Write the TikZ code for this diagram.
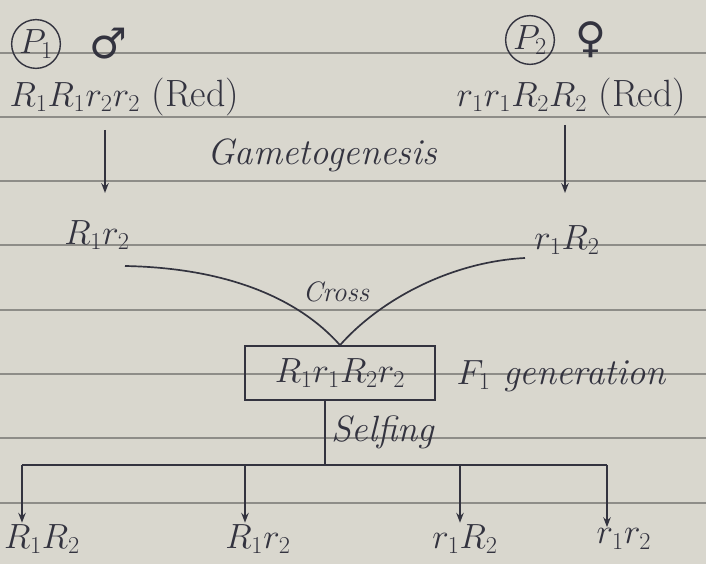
\documentclass[tikz,border=0pt]{standalone}
\usepackage{fontspec}
\usepackage{tikz}
\usetikzlibrary{arrows.meta,positioning,calc}
\newfontfamily\symfont{DejaVu Sans}
\definecolor{paper}{HTML}{D9D7CE}
\definecolor{ink}{HTML}{33333F}
\definecolor{rule}{HTML}{8E8D88}
\tikzset{
    gen text/.style={text=ink, font=\fontsize{27}{30}\selectfont, inner sep=1pt},
    gen label/.style={text=ink, font=\fontsize{26}{30}\selectfont\itshape, inner sep=1pt},
    gen small/.style={gen label, font=\fontsize{20}{24}\selectfont\itshape},
    gen parent/.style={circle, draw=ink, line width=1pt, inner sep=1pt, text=ink,
        minimum size=1.1cm, font=\fontsize{24}{28}\selectfont},
    gen sign/.style={text=ink, font=\symfont\fontsize{30}{32}\selectfont, inner sep=0pt},
    gen box/.style={draw=ink, line width=1.2pt, text=ink, minimum width=4.75cm,
        minimum height=1.35cm, font=\fontsize{27}{30}\selectfont},
    gen line/.style={draw=ink, line width=1.2pt},
    gen arrow/.style={-{Stealth[length=7pt]}, line width=1.2pt, draw=ink},
    rule line/.style={draw=rule, thick}
}
\begin{document}
\begin{tikzpicture}[x=0.025cm, y=-0.025cm]
\useasboundingbox[fill=paper] (0,0) rectangle (706,564);
% notebook ruling
\foreach \ly in {53,117,181,245,310,374,438,503}
    \draw[rule line] (0,\ly) -- (706,\ly);

% parents
\node[gen parent] (p1) at (36,44) {$P_1$};
\node[gen sign, right=0.7cm of p1] (male) {♂};
\node[gen parent] (p2) at (530,40) {$P_2$};
\node[gen sign, right=0.5cm of p2] (female) {♀};
\node[gen text, anchor=west] (g1) at (8,97) {$R_1R_1r_2r_2$ (Red)};
\node[gen text, anchor=west] (g2) at (455,97) {$r_1r_1R_2R_2$ (Red)};

% gametes
\node[gen label] (gameto) at (322,155) {Gametogenesis};
\node[gen text] (gam1) at (97,235) {$R_1r_2$};
\node[gen text] (gam2) at (567,240) {$r_1R_2$};
\draw[gen arrow] (105,130) -- (105,193);
\draw[gen arrow] (565,125) -- (565,193);

% cross
\node[gen box] (f1) at (340,373) {$R_1r_1R_2r_2$};
\node[gen label, anchor=west] (f1note) at (455,376) {$F_1$ generation};
\node[gen small] (cross) at (336,292) {Cross};
\coordinate (lcross) at (125,266);
\coordinate (rcross) at (525,258);
\draw[gen line] (lcross) .. controls (230,268) and (300,300) .. (f1.north)
    .. controls (380,300) and (450,262) .. (rcross);

% selfing
\coordinate (fork) at (325,465);
\node[gen label, anchor=west] (selfing) at (330,432) {Selfing};
\draw[gen line] (f1.south -| fork) -- (fork);
\node[gen text] (o1) at (42,539) {$R_1R_2$};
\node[gen text] (o2) at (258,539) {$R_1r_2$};
\node[gen text] (o3) at (465,539) {$r_1R_2$};
\node[gen text] (o4) at (624,539) {$r_1r_2$};
\coordinate (b1) at (22,465);
\coordinate (b2) at (245,465);
\coordinate (b3) at (460,465);
\coordinate (b4) at (607,465);
\draw[gen line] (b1) -- (b4);
\foreach \b/\o in {b1/o1,b2/o2,b3/o3,b4/o4}
    \draw[gen arrow] (\b) -- (\b |- \o.north);
\end{tikzpicture}
\end{document}
